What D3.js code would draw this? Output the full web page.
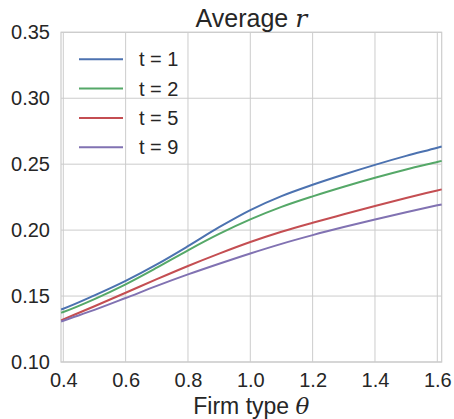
<!DOCTYPE html>
<html><head><meta charset="utf-8">
<script src="https://cdn.jsdelivr.net/npm/d3@7"></script>
<style>
html,body{margin:0;padding:0;background:#fff;}
text{font-family:"Liberation Sans",Arial,sans-serif;fill:#262626;}
</style></head>
<body><svg id="c" width="454" height="419"></svg>
<script>
const theta = [0.393, 0.4, 0.5, 0.6, 0.7, 0.8, 0.9, 1.0, 1.1, 1.2, 1.3, 1.4, 1.5, 1.6, 1.614];
const seriesNames = ["t = 1", "t = 2", "t = 5", "t = 9"];
const r_t1 = [0.1398, 0.1404, 0.1505, 0.1615, 0.1740, 0.1878, 0.2022, 0.2152, 0.2258, 0.2344, 0.2422, 0.2495, 0.2563, 0.2625, 0.2634];
const r_t2 = [0.1373, 0.1379, 0.1477, 0.1589, 0.1715, 0.1847, 0.1971, 0.2081, 0.2176, 0.2256, 0.2329, 0.2397, 0.2460, 0.2517, 0.2525];
const r_t5 = [0.1316, 0.1323, 0.1423, 0.1525, 0.1628, 0.1728, 0.1822, 0.1910, 0.1988, 0.2056, 0.2120, 0.2183, 0.2244, 0.2301, 0.2309];
const r_t9 = [0.1307, 0.1313, 0.1395, 0.1485, 0.1577, 0.1664, 0.1745, 0.1823, 0.1896, 0.1962, 0.2023, 0.2081, 0.2136, 0.2188, 0.2195];
const colors = ["#4C72B0", "#55A868", "#C44E52", "#8172B2"];
const xTicks = [0.4, 0.6, 0.8, 1.0, 1.2, 1.4, 1.6];
const yTicks = [0.10, 0.15, 0.20, 0.25, 0.30, 0.35];
const titleText = "Average ";
const xLabelText = "Firm type ";

const allSeries = [r_t1, r_t2, r_t5, r_t9];
const svg = d3.select("#c");
const L = 61, R = 441.7, T = 32.3, B = 362;
const x = d3.scaleLinear().domain([0.3926, 1.6141]).range([L, R]);
const y = d3.scaleLinear().domain([0.10, 0.35]).range([B, T]);

// grid
const g = svg.append("g");
g.selectAll("line.vg").data(xTicks).enter().append("line")
  .attr("x1", d => x(d)).attr("x2", d => x(d)).attr("y1", T).attr("y2", B)
  .attr("stroke", "#cccccc").attr("stroke-width", 1);
g.selectAll("line.hg").data(yTicks).enter().append("line")
  .attr("y1", d => y(d)).attr("y2", d => y(d)).attr("x1", L).attr("x2", R)
  .attr("stroke", "#cccccc").attr("stroke-width", 1);
// spines
g.append("rect").attr("x", L).attr("y", T).attr("width", R - L).attr("height", B - T)
  .attr("fill", "none").attr("stroke", "#cccccc").attr("stroke-width", 1.2);

// axes (labels only, via d3 axes)
const xAxis = d3.axisBottom(x).tickValues(xTicks).tickFormat(d3.format(".1f")).tickSize(0).tickPadding(11);
const yAxis = d3.axisLeft(y).tickValues(yTicks).tickFormat(d3.format(".2f")).tickSize(0).tickPadding(11);
const xa = svg.append("g").attr("transform", `translate(0,${B})`).call(xAxis);
const ya = svg.append("g").attr("transform", `translate(${L},0)`).call(yAxis);
[xa, ya].forEach(a => {
  a.select(".domain").remove();
  a.selectAll("text").style("font-size", "20px").attr("fill", "#262626")
    .style("font-family", "'Liberation Sans', Arial, sans-serif");
});

// lines
const line = d3.line().x((d, i) => x(theta[i])).y(d => y(d)).curve(d3.curveMonotoneX);
allSeries.forEach((s, k) => {
  svg.append("path").datum(s).attr("d", line).attr("fill", "none")
    .attr("stroke", colors[k]).attr("stroke-width", 2);
});

// legend
const lg = svg.append("g");
seriesNames.forEach((n, k) => {
  const yy = 59.3 + k * 29.3;
  lg.append("line").attr("x1", 79).attr("x2", 123).attr("y1", yy).attr("y2", yy)
    .attr("stroke", colors[k]).attr("stroke-width", 2);
  lg.append("text").attr("x", 139).attr("y", yy).attr("dy", "0.35em")
    .style("font-size", "20px").text(n);
});

// title
const tt = svg.append("text").attr("x", (L + R) / 2).attr("y", 27).attr("text-anchor", "middle")
  .style("font-size", "25px");
tt.append("tspan").text(titleText);
tt.append("tspan").style("font-family", "'DejaVu Serif', serif").style("font-style", "italic").text("r");

// x label
const xl = svg.append("text").attr("x", (L + R) / 2).attr("y", 414).attr("text-anchor", "middle")
  .style("font-size", "23px");
xl.append("tspan").text(xLabelText);
xl.append("tspan").style("font-family", "'DejaVu Serif', serif").style("font-style", "italic").text("θ");
</script></body></html>
